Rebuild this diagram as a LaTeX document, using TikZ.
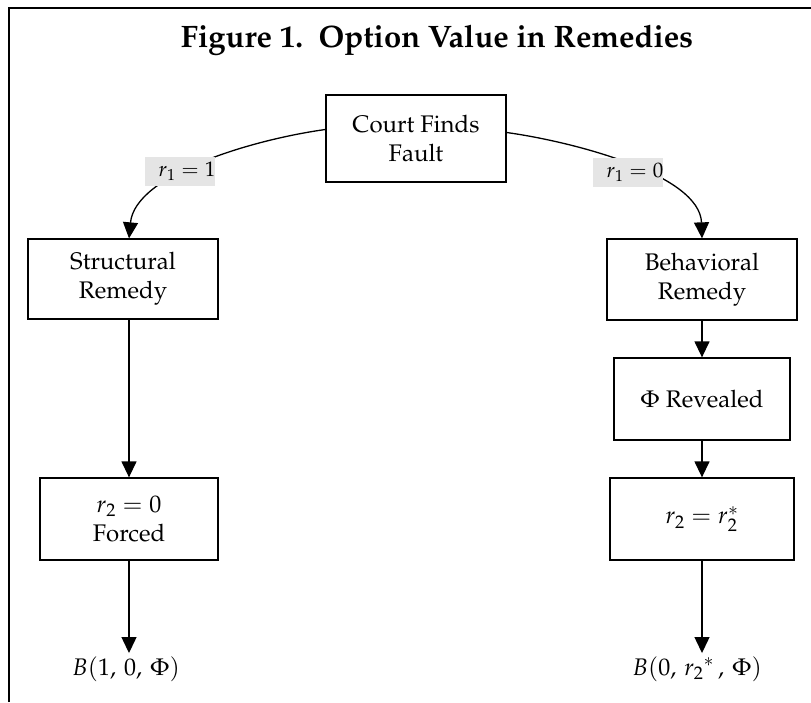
\documentclass[tikz,border=0pt]{standalone}
\usepackage[T1]{fontenc}
\usepackage{mathpazo}
\usetikzlibrary{arrows.meta}
\begin{document}
\begin{tikzpicture}[x=1pt,y=-1pt,
  box/.style={draw, line width=1.3pt, inner sep=0pt, align=center, font=\fontsize{24}{29}\selectfont},
  arr/.style={line width=1.3pt, -{Triangle[length=16pt,width=15pt]}},
  lab/.style={fill=gray!20, inner sep=0pt, minimum width=66pt, minimum height=29pt, font=\fontsize{21}{25}\selectfont},
  outc/.style={inner sep=3pt, font=\fontsize{24}{29}\selectfont}]
\useasboundingbox (0,0) rectangle (811,702);
\draw[line width=2.2pt] (9,702) -- (9,8) -- (811,8);
\node[font=\fontsize{31}{36}\bfseries\selectfont] (title) at (437,40) {Figure 1.\ \ Option Value in Remedies};
\node[box, minimum width=180pt, minimum height=87pt] (court) at (416,138.5) {Court Finds\\Fault};
\node[box, minimum width=190pt, minimum height=80pt] (structural) at (123,279) {Structural\\Remedy};
\node[box, minimum width=178pt, minimum height=82pt] (forced) at (129,519) {$r_2 = 0$\\Forced};
\node[box, minimum width=190pt, minimum height=81pt] (behavioral) at (702,279.5) {Behavioral\\Remedy};
\node[box, minimum width=176pt, minimum height=82pt] (phi) at (702,399) {$\Phi$ Revealed};
\node[box, minimum width=184pt, minimum height=82pt] (r2) at (702,519) {$r_2 = r_2^{*}$};
\node[outc, anchor=base] (b1) at (126,675) {$B(1,\, 0,\, \Phi)$};
\node[outc, anchor=base] (b2) at (697,675) {$B(0,\, r_2{}^{*}\,,\, \Phi)$};
\draw[arr] ([yshift=9pt]court.west) .. controls (250,140) and (135,175) .. (forced.north |- structural.north);
\draw[arr] ([yshift=6pt]court.east) .. controls (575,142) and (700,175) .. (behavioral.north);
\node[lab] (l1) at (180,171.5) {\hspace{14pt}$r_1 = 1$\hspace{-2pt}};
\node[lab] (l0) at (628,172.5) {\hspace{14pt}$r_1 = 0$\hspace{-2pt}};
\draw[arr] (forced.north |- structural.south) -- (forced.north);
\draw[arr] (forced.south) -- (forced.south |- b1.north);
\draw[arr] (behavioral.south) -- (phi.north);
\draw[arr] (phi.south) -- (r2.north);
\draw[arr] (r2.south) -- (r2.south |- b2.north);
\end{tikzpicture}
\end{document}
